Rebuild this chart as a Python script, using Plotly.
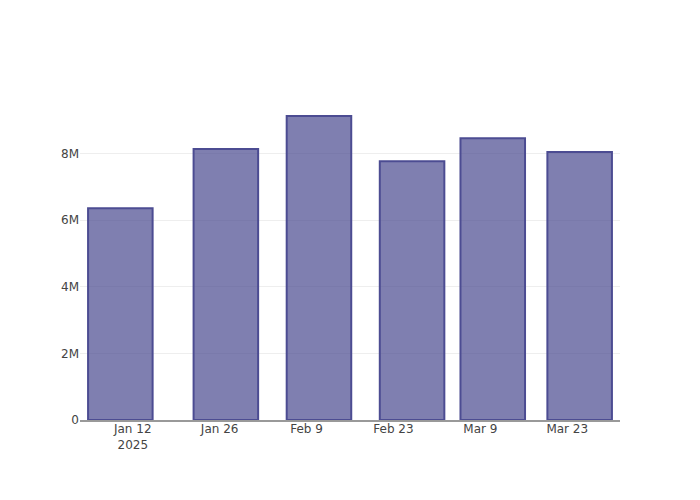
import plotly.graph_objects as go

dates = ["2025-01-10", "2025-01-27", "2025-02-11", "2025-02-26", "2025-03-11", "2025-03-25"]
values = [6350000, 8130000, 9120000, 7760000, 8450000, 8040000]

fig = go.Figure(
    go.Bar(
        x=dates,
        y=values,
        marker=dict(color="rgba(72,72,142,0.7)",
                    line=dict(color="rgb(76,76,146)", width=2)),
    )
)
fig.update_layout(
    template="none",
    width=700, height=500,
    plot_bgcolor="white", paper_bgcolor="white",
    margin=dict(l=80, r=80, t=100, b=80),
    font=dict(family="DejaVu Sans", color="#444", size=12),
)
fig.update_xaxes(showline=True, linecolor="#999", linewidth=2, showgrid=False,
                 ticks="", ticklabelstandoff=-3,
                 tickformat="%b %-d\n%Y", dtick=14*24*3600*1000,
                 tick0="2025-01-12")
fig.update_yaxes(showgrid=True, gridcolor="#eee", zeroline=False, showline=False,
                 ticks="", tickformat="~s")
fig.write_html("out.html", config={"displayModeBar": False},
               post_script="document.body.style.margin='0';")
